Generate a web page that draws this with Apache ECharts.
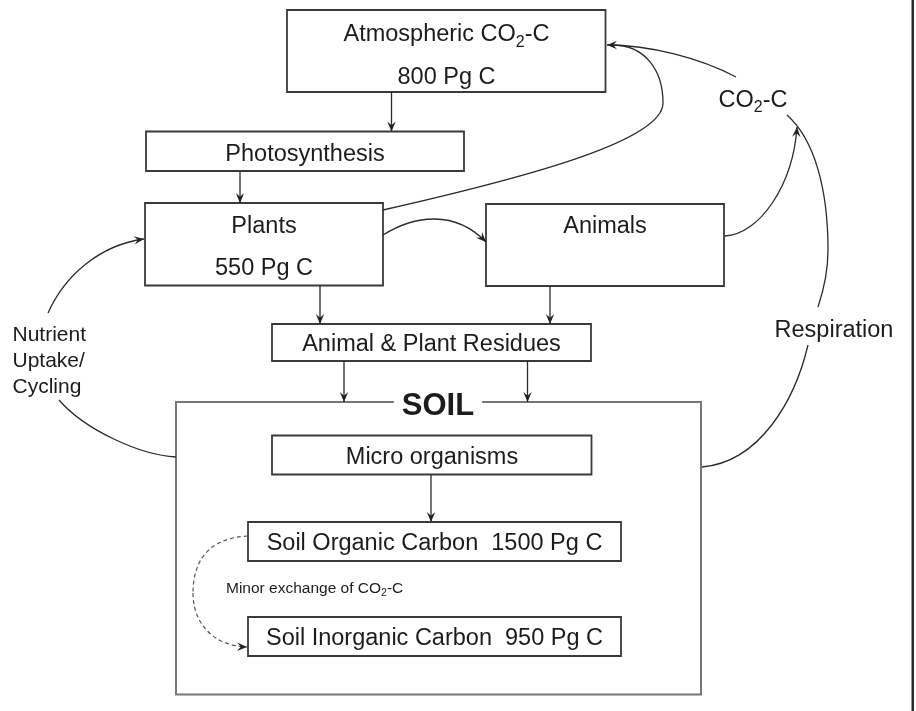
<!DOCTYPE html>
<html><head><meta charset="utf-8">
<script src="https://cdn.jsdelivr.net/npm/echarts@6/dist/echarts.min.js"></script>
<style>html,body{margin:0;padding:0;background:#fff}#c{width:916px;height:711px}</style>
</head><body><div id="c"></div>
<script>
// ---- Diagram content (diagram units: x 0..916, y 0..711 downward) ----
const boxNames  = ['Atmosphere','Photosynthesis','Plants','Animals','Residues','Soil','Microorganisms','SOC','SIC'];
const boxLeft   = [287, 146, 145, 486, 272, 176, 272, 248, 248];
const boxTop    = [10, 131.5, 203, 204, 324, 402, 435.5, 522, 617];
const boxRight  = [605.5, 464, 383, 724, 591, 701, 591.5, 621, 621];
const boxBottom = [92, 171, 285.5, 286, 361, 694.5, 474.5, 561, 656];
const boxKind   = ['box','box','box','box','box','soil','box','box','box'];

const labelTexts = ['Atmospheric CO_2-C','800 Pg C','Photosynthesis','Plants','550 Pg C','Animals',
  'Animal & Plant Residues','SOIL','Micro organisms','Soil Organic Carbon  1500 Pg C',
  'Soil Inorganic Carbon  950 Pg C','Minor exchange of CO_2-C','CO_2-C','Respiration','Nutrient\nUptake/\nCycling'];
const labelX = [446.5, 446.5, 305, 264, 264, 605, 431.5, 438, 432, 434.5, 434.5, 226, 753, 834, 12.5];
const labelY = [35, 77.5, 155, 226.5, 269, 226.5, 345, 406.5, 458, 544, 639, 589, 100.5, 330.5, 361];
const labelKind = ['main','main','main','main','main','main','main','title','main','main','main','small','main','main','side'];

// flow segments: start, control1, control2, end, arrowhead flag, dashed flag
const flowNames = ['Atm→Photo','Photo→Plants','Plants→Atm a','Plants→Atm b','CO2→Atm','Plants→Animals',
  'Animals→CO2','Resp low','Resp up a','Resp up b','Nutr low','Nutr up','Plants→Res','Animals→Res',
  'Res→Soil L','Res→Soil R','Micro→SOC','Minor a','Minor b'];
const flowStart = [[391.5,92],[240,171],[383,210],[663,103],[736,77],[383,235],[725,236],[702,467],[818,307],[828,250],[176,457],[48,313],[320,285.5],[550,286],[344,361],[527.5,361],[431,474.5],[248,536],[193,593]];
const flowC1    = [[391.5,92],[240,171],[533,176],[663,70],[700,58],[415,215],[760,234],[760,462],[824,289],[828,190],[140,455],[65,275],[320,285.5],[550,286],[344,361],[527.5,361],[431,474.5],[205,538],[193,625]];
const flowC2    = [[391.5,131.5],[240,203],[663,140],[645,45],[650,45],[455,210],[793,185],[795,400],[828,268],[815,140],[85,430],[100,245],[320,324],[550,324],[344,402],[527.5,402],[431,522],[193,565],[215,646]];
const flowEnd   = [[391.5,131.5],[240,203],[663,103],[612,45],[607,45],[486,242],[797,127],[808,345],[828,250],[787,115],[59,400],[144,239],[320,324],[550,324],[344,402],[527.5,402],[431,522],[193,593],[247,647]];
const flowArrow = [1,1,0,0,1,1,1,0,0,0,0,1,1,1,1,1,1,0,1];
const flowDash  = [0,0,0,0,0,0,0,0,0,0,0,0,0,0,0,0,0,1,1];

// ---- rendering ----
const FF = '"Liberation Sans", Arial, Helvetica, sans-serif';
const INK = '#1c1c1c';
const kindStyle = {
  main:  {size: 23.5, weight: 'normal', align: 'center'},
  title: {size: 31, weight: 'bold', align: 'center'},
  small: {size: 15.5, weight: 'normal', align: 'left'},
  side:  {size: 21, weight: 'normal', align: 'left', lh: 26}
};

const boxData = boxNames.map((n, i) => [boxLeft[i], boxTop[i], boxRight[i], boxBottom[i]]);
const labelData = labelTexts.map((t, i) => [labelX[i], labelY[i]]);
const flowData = flowNames.map((n, i) => [
  flowStart[i][0], flowStart[i][1], flowC1[i][0], flowC1[i][1],
  flowC2[i][0], flowC2[i][1], flowEnd[i][0], flowEnd[i][1], flowArrow[i], flowDash[i]]);

function richOf(txt) {
  return txt.split('_2').map(p => p ? '{t|' + p + '}' : '').join('{s|2}');
}

const chart = echarts.init(document.getElementById('c'), null, {renderer: 'canvas'});
chart.setOption({
  animation: false,
  backgroundColor: '#fff',
  grid: {left: 0, right: 0, top: 0, bottom: 0},
  xAxis: {type: 'value', min: 0, max: 916, show: false},
  yAxis: {type: 'value', min: 0, max: 711, inverse: true, show: false},
  graphic: [{type: 'rect', shape: {x: 911.5, y: 0, width: 2.5, height: 711}, style: {fill: '#2a2a2a'}}],
  series: [
    {
      type: 'custom', name: 'boxes', coordinateSystem: 'cartesian2d', data: boxData,
      encode: {x: [0, 2], y: [1, 3]}, silent: true,
      renderItem: (params, api) => {
        const i = params.dataIndex;
        const p0 = api.coord([api.value(0), api.value(1)]);
        const p1 = api.coord([api.value(2), api.value(3)]);
        const soil = boxKind[i] === 'soil';
        return {
          type: 'rect',
          shape: {x: Math.min(p0[0], p1[0]), y: Math.min(p0[1], p1[1]),
                  width: Math.abs(p1[0] - p0[0]), height: Math.abs(p1[1] - p0[1])},
          style: {fill: 'none', stroke: soil ? '#777' : '#3a3a3a', lineWidth: soil ? 2 : 1.8}
        };
      }
    },
    {
      type: 'custom', name: 'flows', coordinateSystem: 'cartesian2d', data: flowData,
      encode: {x: [0, 2, 4, 6], y: [1, 3, 5, 7]}, silent: true,
      renderItem: (params, api) => {
        const P = k => api.coord([api.value(2 * k), api.value(2 * k + 1)]);
        const a = P(0), c1 = P(1), c2 = P(2), b = P(3);
        const arrow = api.value(8), dashed = api.value(9);
        const children = [{
          type: 'bezierCurve',
          shape: {x1: a[0], y1: a[1], cpx1: c1[0], cpy1: c1[1], cpx2: c2[0], cpy2: c2[1], x2: b[0], y2: b[1]},
          style: {fill: 'none', stroke: dashed ? '#555' : '#2b2b2b', lineWidth: dashed ? 1.2 : 1.3,
                  lineDash: dashed ? [4, 3] : null}
        }];
        if (arrow) {
          const d = (p, q) => Math.hypot(p[0] - q[0], p[1] - q[1]);
          let from = c2;
          if (d(from, b) < 0.5) from = c1;
          if (d(from, b) < 0.5) from = a;
          const len = d(from, b), ux = (b[0] - from[0]) / len, uy = (b[1] - from[1]) / len;
          const L = 10, W = 4.2;
          const base = [b[0] - ux * L, b[1] - uy * L];
          const w1 = [base[0] - uy * W, base[1] + ux * W];
          const w2 = [base[0] + uy * W, base[1] - ux * W];
          const notch = [b[0] - ux * L * 0.62, b[1] - uy * L * 0.62];
          children.push({type: 'polygon', shape: {points: [b, w1, notch, w2]}, style: {fill: '#222'}});
        }
        return {type: 'group', children};
      }
    },
    {
      type: 'custom', name: 'labels', coordinateSystem: 'cartesian2d', data: labelData,
      encode: {x: 0, y: 1}, silent: true, z: 5,
      renderItem: (params, api) => {
        const i = params.dataIndex;
        const p = api.coord([api.value(0), api.value(1)]);
        const txt = labelTexts[i];
        const ks = kindStyle[labelKind[i]];
        const style = {fill: INK, align: ks.align, verticalAlign: 'middle'};
        if (txt.indexOf('_2') >= 0) {
          const sub = ks.size * 0.68;
          style.text = richOf(txt);
          style.rich = {
            t: {fontSize: ks.size, fontFamily: FF, fill: INK, lineHeight: ks.size * 1.3},
            s: {fontSize: sub, fontFamily: FF, fill: INK, lineHeight: sub, verticalAlign: 'bottom'}
          };
        } else {
          style.text = txt;
          style.font = ks.weight + ' ' + ks.size + 'px ' + FF;
          if (ks.lh) style.lineHeight = ks.lh;
        }
        if (labelKind[i] === 'title') { style.backgroundColor = '#fff'; style.padding = [0, 8]; }
        return {type: 'text', x: p[0], y: p[1], style};
      }
    }
  ]
});
</script>
</body></html>
